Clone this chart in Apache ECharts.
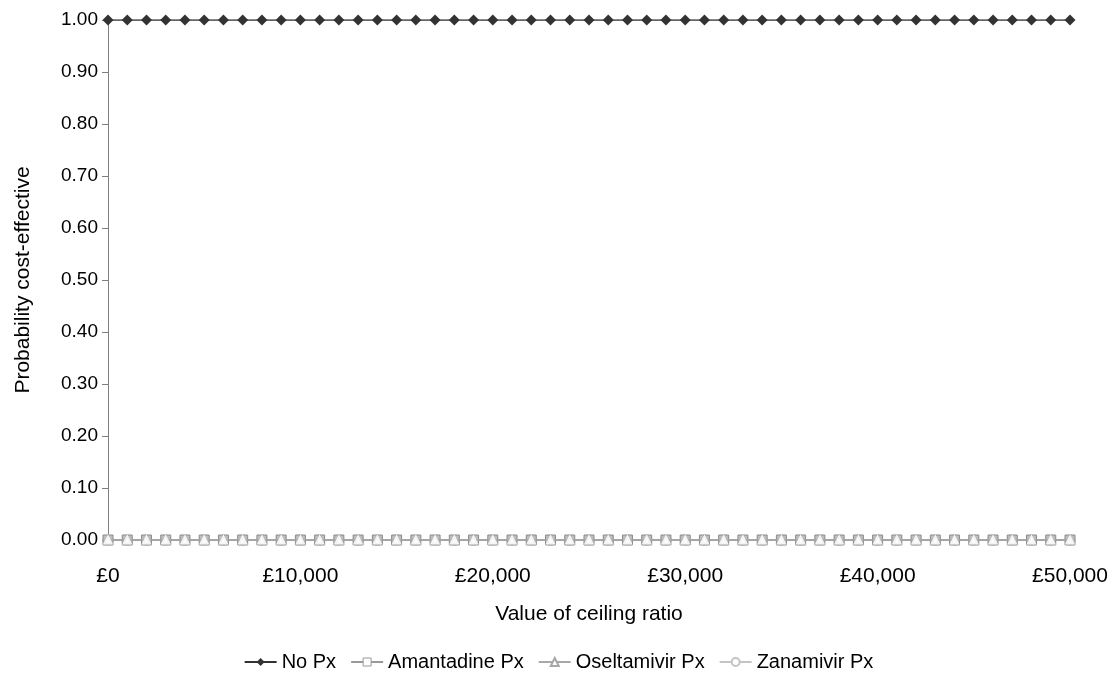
<!DOCTYPE html>
<html><head><meta charset="utf-8">
<script src="https://cdn.jsdelivr.net/npm/echarts@6/dist/echarts.min.js"></script>
<style>html,body{margin:0;padding:0;background:#fff}#c{width:1117px;height:677px}</style>
</head><body><div id="c"></div>
<script>
var ceiling = [0,1000,2000,3000,4000,5000,6000,7000,8000,9000,10000,11000,12000,13000,14000,15000,16000,17000,18000,19000,20000,21000,22000,23000,24000,25000,26000,27000,28000,29000,30000,31000,32000,33000,34000,35000,36000,37000,38000,39000,40000,41000,42000,43000,44000,45000,46000,47000,48000,49000,50000];
var noPx = [1,1,1,1,1,1,1,1,1,1,1,1,1,1,1,1,1,1,1,1,1,1,1,1,1,1,1,1,1,1,1,1,1,1,1,1,1,1,1,1,1,1,1,1,1,1,1,1,1,1,1];
var amantadinePx = [0,0,0,0,0,0,0,0,0,0,0,0,0,0,0,0,0,0,0,0,0,0,0,0,0,0,0,0,0,0,0,0,0,0,0,0,0,0,0,0,0,0,0,0,0,0,0,0,0,0,0];
var oseltamivirPx = [0,0,0,0,0,0,0,0,0,0,0,0,0,0,0,0,0,0,0,0,0,0,0,0,0,0,0,0,0,0,0,0,0,0,0,0,0,0,0,0,0,0,0,0,0,0,0,0,0,0,0];
var zanamivirPx = [0,0,0,0,0,0,0,0,0,0,0,0,0,0,0,0,0,0,0,0,0,0,0,0,0,0,0,0,0,0,0,0,0,0,0,0,0,0,0,0,0,0,0,0,0,0,0,0,0,0,0];
var seriesNames = ['No Px','Amantadine Px','Oseltamivir Px','Zanamivir Px'];

function pairs(v){ return ceiling.map(function(x,i){return [x,v[i]];}); }
var font = 'Liberation Sans, Arial, sans-serif';
var chart = echarts.init(document.getElementById('c'));
function mk(name, data, sym, size, lineColor, itemStyle, z){
  return {name:name, type:'line', data:pairs(data), symbol:sym, symbolSize:size, showAllSymbol:true,
    lineStyle:{color:lineColor, width:1.5}, itemStyle:itemStyle,
    z:z, animation:false};
}
chart.setOption({
  animation:false,
  textStyle:{fontFamily:font},
  grid:{left:108, right:47, top:20, bottom:137},
  xAxis:{type:'value', min:0, max:50000, interval:10000,
    name:'Value of ceiling ratio', nameLocation:'middle', nameGap:64,
    nameTextStyle:{fontSize:21, color:'#000', fontFamily:font},
    axisLine:{show:true, onZero:false, lineStyle:{color:'#808080'}},
    axisTick:{show:true, length:5, lineStyle:{color:'#808080'}},
    splitLine:{show:false},
    axisLabel:{fontSize:21, color:'#000', margin:26, fontFamily:font,
      formatter:function(v){return '£'+v.toLocaleString('en-GB');}}},
  yAxis:{type:'value', min:0, max:1, interval:0.1,
    name:'Probability cost-effective', nameLocation:'middle', nameGap:74, nameRotate:90,
    nameTextStyle:{fontSize:21, color:'#000', fontFamily:font},
    axisLine:{show:true, lineStyle:{color:'#808080'}},
    axisTick:{show:true, length:6, lineStyle:{color:'#808080'}},
    splitLine:{show:false},
    axisLabel:{fontSize:19, color:'#000', margin:10, fontFamily:font,
      formatter:function(v){return v.toFixed(2);}}},
  legend:{bottom:0, left:'center', itemWidth:32, itemHeight:10, itemGap:14,
    textStyle:{fontSize:20, color:'#000', fontFamily:font},
    data:[
      {name:seriesNames[0]},
      {name:seriesNames[1], itemStyle:{color:'#ffffff', borderColor:'#999999', borderWidth:1}, lineStyle:{color:'#999999'}},
      {name:seriesNames[2], itemStyle:{color:'#a8a8a8', borderWidth:1}, lineStyle:{color:'#a8a8a8'}},
      {name:seriesNames[3], itemStyle:{color:'#c4c4c4', borderWidth:1}, lineStyle:{color:'#c4c4c4'}}
    ]},
  series:[
    mk(seriesNames[3], zanamivirPx, 'emptyCircle', 9, '#c8c8c8', {color:'#c4c4c4', borderWidth:1}, 2),
    mk(seriesNames[1], amantadinePx, 'rect', 10, '#999999', {color:'#bdbdbd', borderColor:'#8c8c8c', borderWidth:1}, 3),
    mk(seriesNames[2], oseltamivirPx, 'emptyTriangle', 7, '#a8a8a8', {color:'#f4f4f4', borderWidth:1}, 4),
    mk(seriesNames[0], noPx, 'diamond', 11, '#333333', {color:'#333333'}, 5)
  ]
});
</script></body></html>
